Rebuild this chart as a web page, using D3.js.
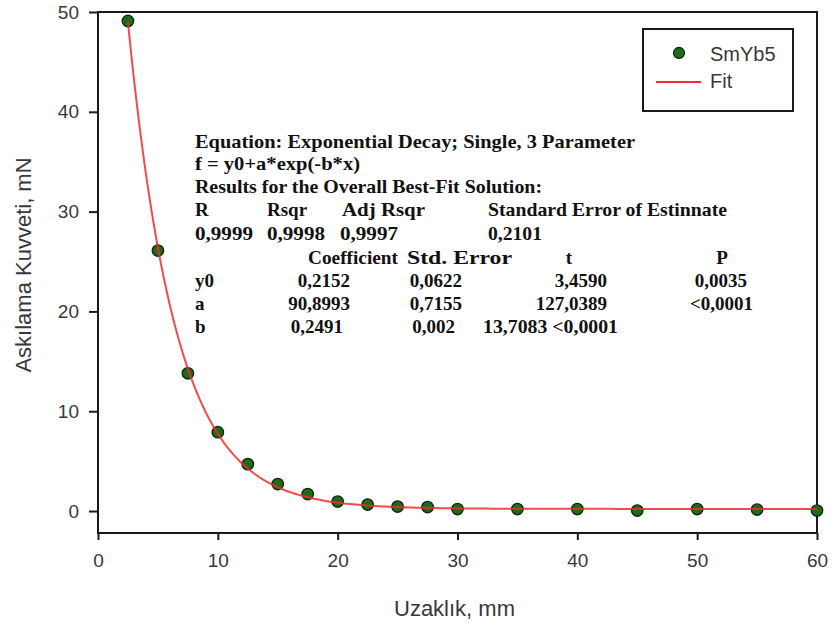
<!DOCTYPE html>
<html>
<head>
<meta charset="utf-8">
<script src="https://cdn.jsdelivr.net/npm/d3@7"></script>
<style>
  html, body { margin: 0; padding: 0; background: #fff; }
  svg { display: block; }
</style>
</head>
<body>
<svg id="chart" width="834" height="628"></svg>
<script>
// Measured distances (mm) and scratch forces (mN) for the SmYb5 sample
const distance = [2.5, 5, 7.5, 10, 12.5, 15, 17.5, 20, 22.5, 25, 27.5, 30, 35, 40, 45, 50, 55, 60];
const force    = [49.1, 26.1, 13.8, 7.9, 4.7, 2.7, 1.7, 0.95, 0.65, 0.45, 0.4, 0.2, 0.2, 0.2, 0.05, 0.2, 0.15, 0.05];

// Axis ticks
const xTicks = [0, 10, 20, 30, 40, 50, 60];
const yTicks = [0, 10, 20, 30, 40, 50];

// Regression parameters: f = y0 + a*exp(-b*x)
const paramNames  = ["y0", "a", "b"];
const coefficient = ["0,2152", "90,8993", "0,2491"];
const stdError    = ["0,0622", "0,7155", "0,002"];
const tValue      = ["3,4590", "127,0389", ""];
const pValue      = ["0,0035", "<0,0001", ""];
const fitY0 = 0.2152, fitA = 90.8993, fitB = 0.2491;

const headerLines = [
  "Equation: Exponential Decay; Single, 3 Parameter",
  "f = y0+a*exp(-b*x)",
  "Results for the Overall Best-Fit Solution:"
];
const fitStatNames  = ["R", "Rsqr", "Adj Rsqr", "Standard Error of Estinnate"];
const fitStatValues = ["0,9999", "0,9998", "0,9997", "0,2101"];
const coefHeaders   = ["Coefficient", "Std. Error", "t", "P"];

const seriesLabels = ["SmYb5", "Fit"];
const xTitle = "Uzaklık, mm";
const yTitle = "Askılama Kuvveti, mN";

// ---- layout ----
const svg = d3.select("#chart");
const plotL = 98, plotR = 817, plotT = 12, plotB = 533;
const x = d3.scaleLinear().domain([0, 60]).range([plotL, plotR]);
const y = d3.scaleLinear().domain([-2.2, 50]).range([plotB, plotT]);

const axisColor = "#1a1a1a";
const labelColor = "#383838";
const sans = "Arial, 'Liberation Sans', sans-serif";
const serif = "'Times New Roman', 'Liberation Serif', serif";

// frame
svg.append("rect")
  .attr("x", plotL).attr("y", plotT)
  .attr("width", plotR - plotL).attr("height", plotB - plotT)
  .attr("fill", "none").attr("stroke", axisColor).attr("stroke-width", 2);

// axes
const xAxis = svg.append("g")
  .attr("transform", `translate(0,${plotB})`)
  .call(d3.axisBottom(x).tickValues(xTicks).tickSize(7).tickPadding(14).tickFormat(d3.format("d")));
const yAxis = svg.append("g")
  .attr("transform", `translate(${plotL},0)`)
  .call(d3.axisLeft(y).tickValues(yTicks).tickSize(9).tickPadding(10).tickFormat(d3.format("d")));
[xAxis, yAxis].forEach(g => {
  g.select(".domain").remove();
  g.selectAll(".tick line").attr("stroke", axisColor).attr("stroke-width", 2);
  g.selectAll(".tick text")
    .attr("fill", labelColor)
    .style("font-family", sans)
    .style("font-size", "19px");
});

// axis titles
svg.append("text")
  .attr("x", (plotL + plotR) / 2 - 3).attr("y", 616)
  .attr("text-anchor", "middle")
  .attr("fill", labelColor)
  .style("font-family", sans).style("font-size", "22px")
  .text(xTitle);
svg.append("text")
  .attr("transform", `translate(31,265) rotate(-90)`)
  .attr("text-anchor", "middle")
  .attr("fill", labelColor)
  .style("font-family", sans).style("font-size", "22px")
  .text(yTitle);

// fitted curve from the regression coefficients
const fitX = d3.range(2.5, 60.001, 0.25);
const line = d3.line().x(d => x(d)).y(d => y(fitY0 + fitA * Math.exp(-fitB * d)));

// data points
svg.append("g").selectAll("circle")
  .data(distance)
  .join("circle")
  .attr("cx", d => x(d))
  .attr("cy", (d, i) => y(force[i]))
  .attr("r", 5.7)
  .attr("fill", "#1f6b1c")
  .attr("stroke", "#0f2a0c")
  .attr("stroke-width", 1.4);

svg.append("path")
  .datum(fitX)
  .attr("d", line)
  .attr("fill", "none")
  .attr("stroke", "#ee2c2c")
  .attr("stroke-opacity", 0.85)
  .attr("stroke-width", 2);

// legend
const lg = svg.append("g");
lg.append("rect")
  .attr("x", 643).attr("y", 29).attr("width", 150).attr("height", 82)
  .attr("fill", "#fff").attr("stroke", axisColor).attr("stroke-width", 2);
lg.append("circle")
  .attr("cx", 679).attr("cy", 53).attr("r", 5.5)
  .attr("fill", "#1f6b1c").attr("stroke", "#0f2a0c").attr("stroke-width", 1.3);
lg.append("line")
  .attr("x1", 656).attr("x2", 701).attr("y1", 82).attr("y2", 82)
  .attr("stroke", "#ee3030").attr("stroke-width", 2);
lg.selectAll("text.lbl")
  .data(seriesLabels)
  .join("text")
  .attr("class", "lbl")
  .attr("x", 710)
  .attr("y", (d, i) => i === 0 ? 61 : 88)
  .attr("fill", labelColor)
  .style("font-family", sans).style("font-size", "20px")
  .text(d => d);

// regression report
const rep = svg.append("g")
  .attr("fill", "#111")
  .style("font-family", serif)
  .style("font-weight", "bold")
  .style("font-size", "19px");

function put(txt, px, py, anchor, width) {
  const t = rep.append("text")
    .attr("x", px).attr("y", py)
    .attr("text-anchor", anchor || "start")
    .text(txt);
  if (width) t.attr("textLength", width).attr("lengthAdjust", "spacingAndGlyphs");
  return t;
}

const rows = [148, 170, 193, 216, 240, 264, 287, 310, 333];
const headerWidths = [440, 165, 347];
headerLines.forEach((s, i) => put(s, 195, rows[i], "start", headerWidths[i]));

const statX = [195, 267, 342, 488];
const statNameW = [null, null, 83, 239];
fitStatNames.forEach((s, i) => put(s, statX[i], rows[3], "start", statNameW[i]));
const statValX = [195, 267, 340, 488];
const statValW = [58, 58, 58, 54];
fitStatValues.forEach((s, i) => put(s, statValX[i], rows[4], "start", statValW[i]));

const colHeadX = [308, 407, 569, 722];
const colHeadAnchor = ["start", "start", "middle", "middle"];
const colHeadW = [90, 105, null, null];
coefHeaders.forEach((s, i) => put(s, colHeadX[i], rows[5], colHeadAnchor[i], colHeadW[i]));

const coefRight = [350, 350, 343];
const errRight = [462, 462, 455];
paramNames.forEach((p, i) => {
  const ry = rows[6 + i];
  put(p, 195, ry);
  put(coefficient[i], coefRight[i], ry, "end");
  put(stdError[i], errRight[i], ry, "end");
});
// t and P columns
put(tValue[0], 607, rows[6], "end");
put(pValue[0], 747, rows[6], "end");
put(tValue[1], 607, rows[7], "end");
put(pValue[1], 753, rows[7], "end");
// the last row prints t and P run together
put("13,7083 <0,0001", 483, rows[8], "start", 135);
</script>
</body>
</html>
